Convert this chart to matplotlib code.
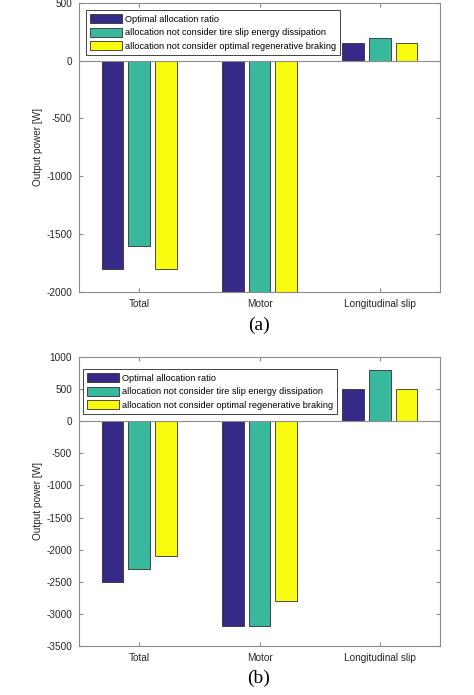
import matplotlib
matplotlib.use("Agg")
import matplotlib.pyplot as plt
import numpy as np

plt.rcParams['font.family'] = ['Liberation Sans', 'DejaVu Sans']
plt.rcParams['axes.unicode_minus'] = False

categories = ["Total", "Motor", "Longitudinal slip"]
series_labels = ["Optimal allocation ratio",
                 "allocation not consider tire slip energy dissipation",
                 "allocation not consider optimal regenerative braking"]
values_a = [[-1800, -2000, 150],
            [-1600, -2000, 200],
            [-1800, -2000, 150]]
values_b = [[-2500, -3200, 500],
            [-2300, -3200, 800],
            [-2100, -2800, 500]]
ylim_a = (-2000, 500)
ylim_b = (-3500, 1000)
colors = ["#352A87", "#38B99E", "#F9FB0E"]

fig = plt.figure(figsize=(4.74, 6.95), dpi=100)
axA = fig.add_axes([79/474, 1-291.7/695, 361/474, (291.7-3)/695])
axB = fig.add_axes([79/474, 1-645.7/695, 361/474, (645.7-357.3)/695])

spine_col = "#8c8c8c"

def draw(ax, vals, ylim, caption, cap_y, leg_anchor):
    x = np.arange(1, len(categories)+1)
    offs = [-0.222, 0.0, 0.222]
    for i, (v, c, lab) in enumerate(zip(vals, colors, series_labels)):
        ax.bar(x + offs[i], v, width=0.18, color=c, edgecolor="#303030",
               linewidth=0.6, label=lab, zorder=2)
    ax.axhline(0, color=spine_col, linewidth=0.8, zorder=3)
    ax.set_xlim(0.5, 3.5)
    ax.set_ylim(*ylim)
    ax.set_yticks(np.arange(ylim[0], ylim[1]+1, 500))
    ax.set_xticks(x)
    ax.set_xticklabels(categories)
    for s in ax.spines.values():
        s.set_color(spine_col)
        s.set_linewidth(0.8)
    ax.tick_params(direction="in", length=3, color=spine_col, labelsize=7.2,
                   labelcolor="#262626", top=True, right=True, pad=5)
    ax.set_ylabel("Output power [W]", fontsize=7.2, color="#262626", labelpad=2)
    leg = ax.legend(loc="upper left", bbox_to_anchor=leg_anchor, fontsize=6.6,
                    frameon=True, fancybox=False,
                    edgecolor="#262626", framealpha=1, borderaxespad=0,
                    handlelength=3.5, handleheight=1.15, handletextpad=0.3,
                    labelspacing=0.42, borderpad=0.45)
    leg.get_frame().set_linewidth(0.6)
    fig.text(259/474, 1-cap_y/695, caption, ha="center", va="center",
             fontsize=14, family="Liberation Serif")

draw(axA, values_a, ylim_a, "(a)", 325, (0.019, 0.976))
draw(axB, values_b, ylim_b, "(b)", 678, (0.011, 0.959))

fig.savefig("out.png", dpi=100)
